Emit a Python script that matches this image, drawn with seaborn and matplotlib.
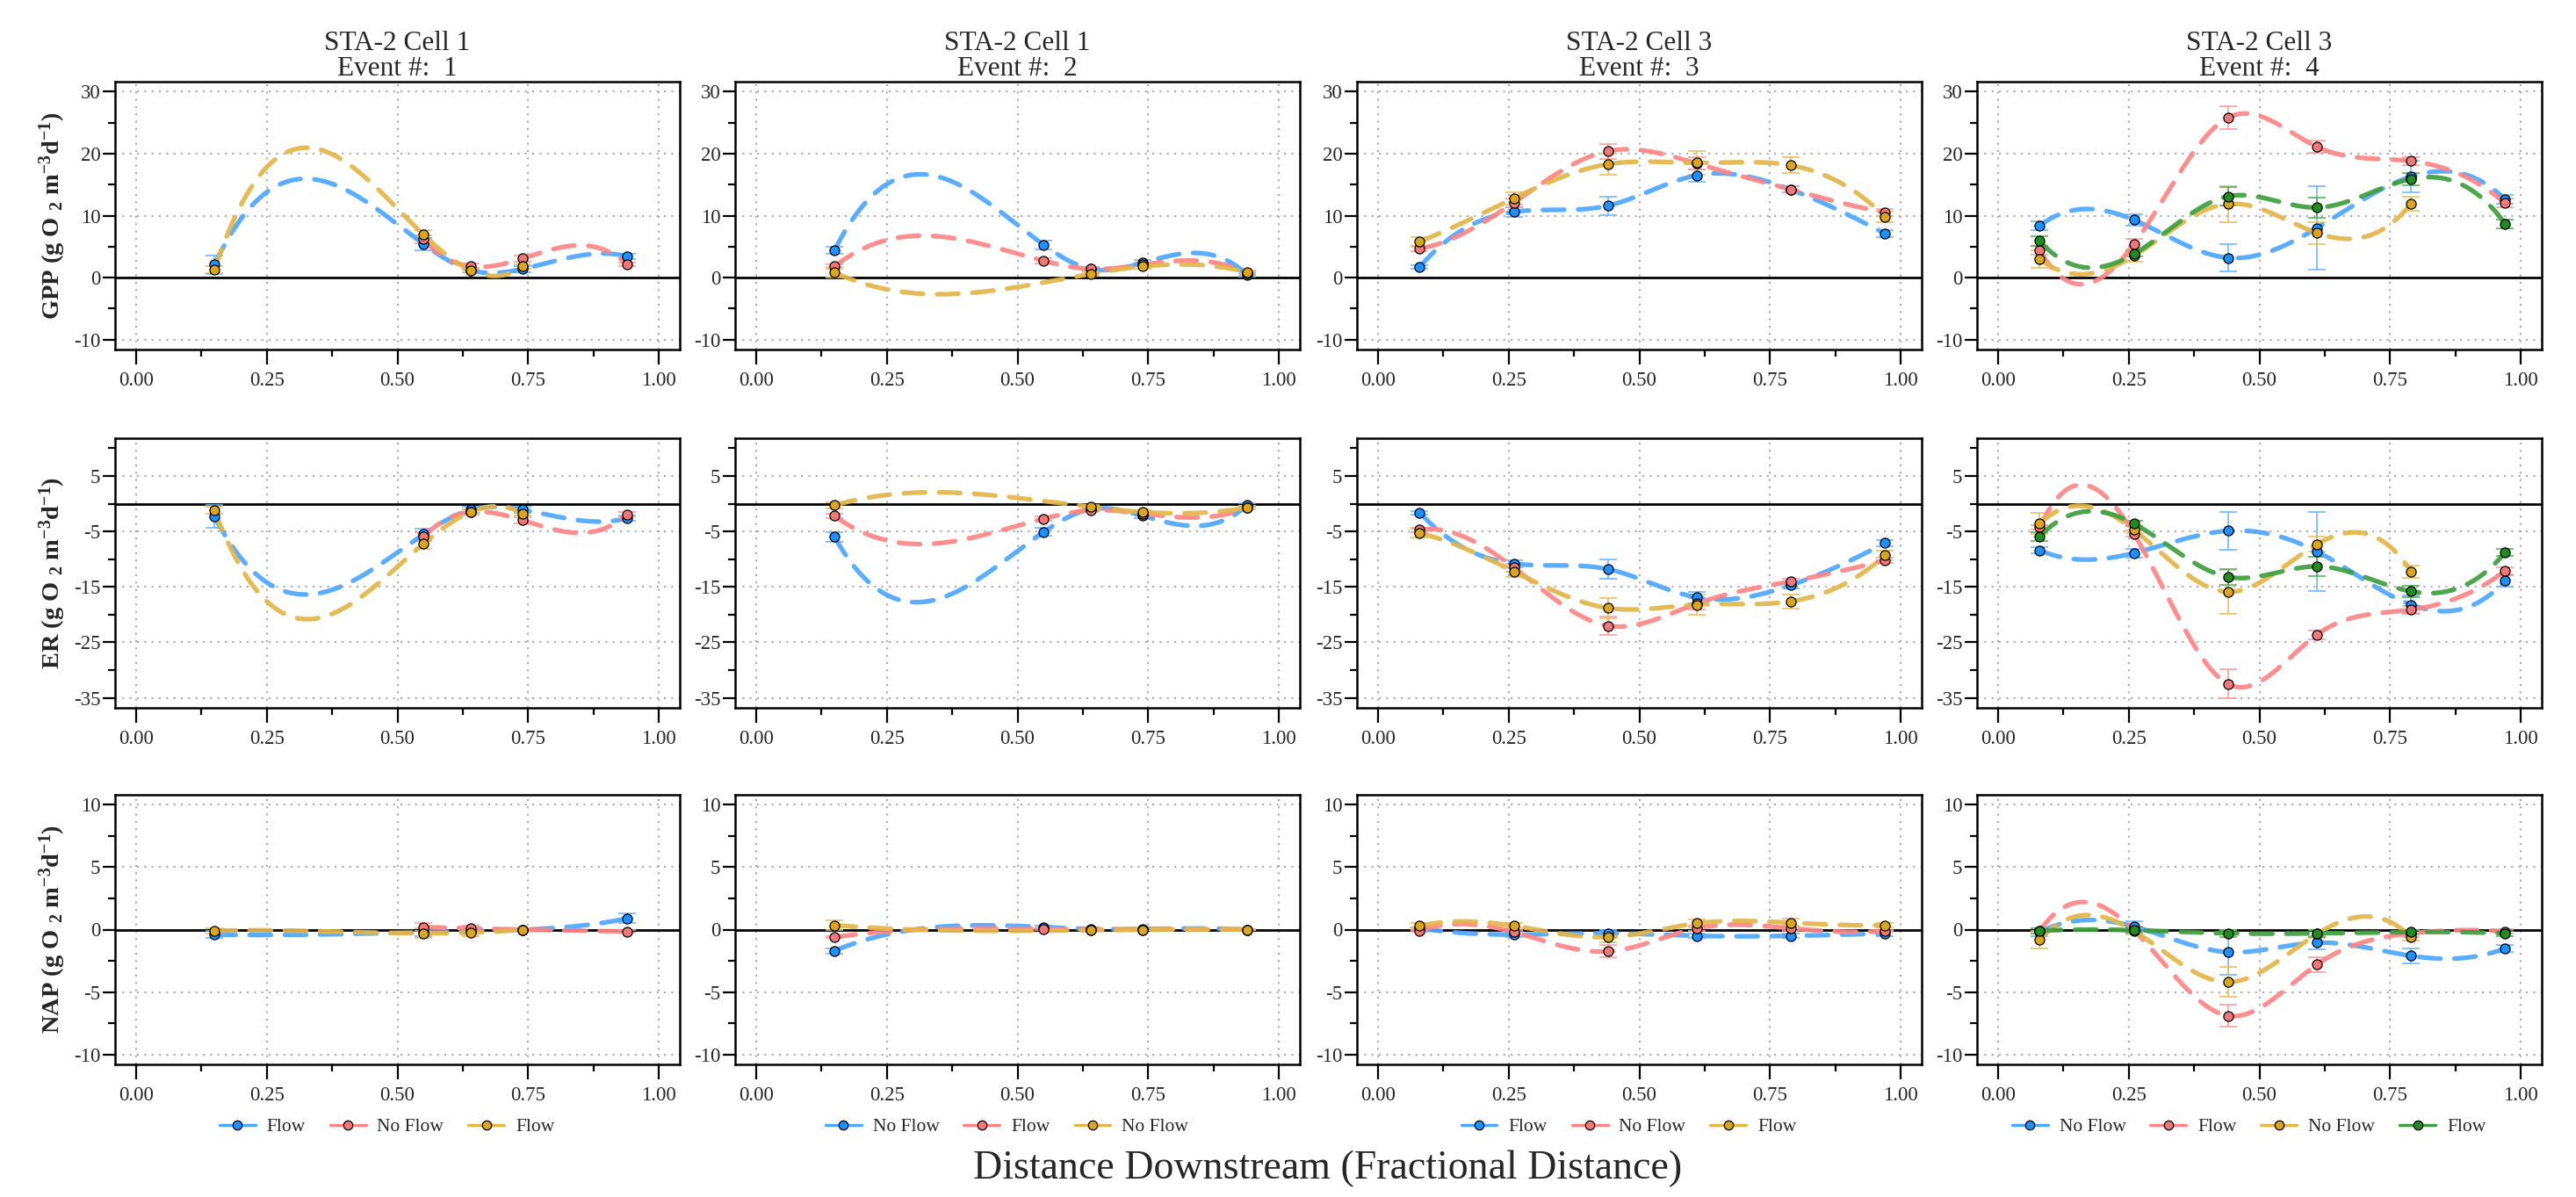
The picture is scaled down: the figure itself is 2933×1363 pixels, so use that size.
import numpy as np
import pandas as pd
import matplotlib
matplotlib.use("Agg")
import matplotlib.pyplot as plt
import seaborn as sns
from matplotlib.lines import Line2D
from matplotlib.ticker import FixedLocator

nan = np.nan

# ---------------- data ----------------
titles = ["STA-2 Cell 1\nEvent #:  1", "STA-2 Cell 1\nEvent #:  2",
          "STA-2 Cell 3\nEvent #:  3", "STA-2 Cell 3\nEvent #:  4"]
metrics = ["GPP", "ER", "NAP"]

dist_e1 = [0.15, 0.55, 0.64, 0.74, 0.94]
dist_e2 = [0.15, 0.55, 0.64, 0.74, 0.94]
dist_e3 = [0.08, 0.26, 0.44, 0.61, 0.79, 0.97]
dist_e4 = [0.08, 0.26, 0.44, 0.61, 0.79, 0.97]

labels_e1 = ["Flow", "No Flow", "Flow"]
labels_e2 = ["No Flow", "Flow", "No Flow"]
labels_e3 = ["Flow", "No Flow", "Flow"]
labels_e4 = ["No Flow", "Flow", "No Flow", "Flow"]

# rows = series (blue, red, gold, green)
e1_gpp = [[2.1, 5.4, 1.2, 1.4, 3.4], [nan, 6.2, 1.8, 3.1, 2.1], [1.3, 6.9, 1.2, 1.8, nan]]
e1_gpp_se = [[1.5, 1.0, 0.4, 0.5, 0.4], [nan, 0.6, 0.5, 0.5, 0.3], [0.6, 0.8, 0.4, 0.4, nan]]
e1_er = [[-2.3, -5.5, -1.1, -1.1, -2.6], [nan, -6.0, -1.5, -3.0, -1.9], [-1.2, -7.2, -1.5, -1.8, nan]]
e1_er_se = [[2.0, 1.0, 0.5, 0.6, 0.5], [nan, 0.8, 0.4, 0.5, 0.4], [0.6, 0.9, 0.4, 0.4, nan]]
e1_nap = [[-0.4, -0.2, -0.1, 0.0, 0.9], [nan, 0.2, 0.1, 0.0, -0.15], [-0.1, -0.3, -0.25, 0.0, nan]]
e1_nap_se = [[0.3, 0.3, 0.2, 0.1, 0.4], [nan, 0.3, 0.2, 0.1, 0.1], [0.2, 0.4, 0.3, 0.1, nan]]

e2_gpp = [[4.4, 5.3, 1.4, 2.4, 0.4], [1.8, 2.7, 1.4, 2.1, 0.7], [0.85, nan, 0.6, 1.8, 0.85]]
e2_gpp_se = [[0.6, 0.7, 0.3, 0.4, 0.3], [0.4, 0.4, 0.3, 0.3, 0.3], [0.8, nan, 0.3, 0.3, 0.3]]
e2_er = [[-6.0, -5.1, -1.0, -2.2, -0.2], [-2.2, -2.7, -1.2, -1.8, -0.7], [-0.3, nan, -0.6, -1.5, -0.7]]
e2_er_se = [[0.9, 0.7, 0.3, 0.4, 0.3], [0.4, 0.4, 0.3, 0.3, 0.3], [0.5, nan, 0.3, 0.3, 0.3]]
e2_nap = [[-1.7, 0.2, 0.05, 0.05, 0.0], [-0.6, 0.05, 0.0, 0.0, 0.0], [0.35, nan, -0.05, 0.0, 0.0]]
e2_nap_se = [[0.2, 0.1, 0.1, 0.1, 0.05], [0.1, 0.1, 0.05, 0.05, 0.05], [0.4, nan, 0.05, 0.05, 0.05]]

e3_gpp = [[1.7, 10.6, 11.6, 16.5, 14.2, 7.1], [4.7, 12.1, 20.4, 18.4, 14.2, 10.5],
          [5.8, 12.8, 18.3, 18.5, 18.1, 9.8]]
e3_gpp_se = [[0.3, 0.8, 1.5, 1.0, 0.5, 0.5], [0.4, 0.7, 1.2, 1.0, 0.5, 0.5],
             [0.8, 1.0, 1.7, 1.9, 1.3, 0.9]]
e3_er = [[-1.6, -10.8, -11.8, -16.9, -14.7, -7.1], [-4.7, -11.5, -22.0, -18.0, -14.0, -10.2],
         [-5.3, -12.2, -18.8, -18.2, -17.6, -9.3]]
e3_er_se = [[0.3, 0.6, 1.7, 1.0, 0.6, 0.5], [0.4, 0.7, 1.7, 1.0, 0.5, 0.5],
            [0.8, 1.0, 1.8, 1.8, 1.3, 0.9]]
e3_nap = [[0.1, -0.4, -0.3, -0.5, -0.5, -0.3], [-0.1, -0.2, -1.75, 0.1, 0.1, -0.1],
          [0.3, 0.3, -0.6, 0.5, 0.55, 0.35]]
e3_nap_se = [[0.1, 0.2, 0.3, 0.2, 0.2, 0.2], [0.1, 0.2, 0.5, 0.2, 0.2, 0.1],
             [0.2, 0.2, 0.4, 0.3, 0.3, 0.2]]

e4_gpp = [[8.4, 9.3, 3.2, 8.0, 16.3, 12.6], [4.4, 5.4, 25.8, 21.1, 18.8, 12.0],
          [3.0, 3.5, 11.9, 7.2, 11.9, nan], [5.9, 3.8, 13.1, 11.3, 15.9, 8.7]]
e4_gpp_se = [[0.7, 0.9, 2.2, 6.7, 2.6, 0.7], [0.7, 0.8, 1.9, 1.0, 0.6, 0.7],
             [1.4, 0.9, 2.9, 1.8, 1.1, nan], [0.8, 0.4, 1.5, 1.6, 1.0, 0.7]]
e4_er = [[-8.4, -8.9, -4.9, -8.6, -18.2, -13.9], [-4.2, -5.4, -32.5, -23.6, -19.1, -12.1],
         [-3.6, -4.7, -15.9, -7.3, -12.2, nan], [-5.9, -3.6, -13.2, -11.3, -15.8, -8.8]]
e4_er_se = [[0.6, 0.8, 3.4, 7.1, 1.6, 1.0], [0.4, 0.6, 2.6, 0.8, 0.6, 0.7],
            [1.9, 0.6, 4.0, 1.4, 1.1, nan], [0.8, 0.5, 1.4, 1.8, 1.0, 0.6]]
e4_nap = [[-0.2, 0.25, -1.8, -1.05, -2.1, -1.5], [-0.1, -0.05, -6.9, -2.8, -0.3, -0.15],
          [-0.8, -0.1, -4.2, -0.35, -0.6, nan], [-0.1, -0.05, -0.3, -0.3, -0.2, -0.3]]
e4_nap_se = [[0.3, 0.4, 1.8, 0.5, 0.6, 0.3], [0.2, 0.3, 0.9, 0.6, 0.3, 0.2],
             [0.7, 0.3, 1.2, 0.3, 0.3, nan], [0.2, 0.2, 0.3, 0.3, 0.2, 0.2]]

# ---------------- style ----------------
marker_colors = ["#1E90FF", "#F07878", "#DAA520", "#228B22"]
line_colors = ["#4DA6FF", "#FF8585", "#E3B64A", "#3E9E3E"]
err_colors = ["#6CB6FF", "#FF9A9A", "#E8C060", "#5AAE5A"]

events = [
    dict(dist=dist_e1, labels=labels_e1, GPP=(e1_gpp, e1_gpp_se), ER=(e1_er, e1_er_se), NAP=(e1_nap, e1_nap_se)),
    dict(dist=dist_e2, labels=labels_e2, GPP=(e2_gpp, e2_gpp_se), ER=(e2_er, e2_er_se), NAP=(e2_nap, e2_nap_se)),
    dict(dist=dist_e3, labels=labels_e3, GPP=(e3_gpp, e3_gpp_se), ER=(e3_er, e3_er_se), NAP=(e3_nap, e3_nap_se)),
    dict(dist=dist_e4, labels=labels_e4, GPP=(e4_gpp, e4_gpp_se), ER=(e4_er, e4_er_se), NAP=(e4_nap, e4_nap_se)),
]

ycfg = {
    "GPP": dict(lim=(-11.6, 31.6), major=[-10, 0, 10, 20, 30], minor=[-5, 5, 15, 25]),
    "ER": dict(lim=(-36.8, 11.8), major=[-35, -25, -15, -5, 5], minor=[-30, -20, -10, 0, 10]),
    "NAP": dict(lim=(-10.8, 10.8), major=[-10, -5, 0, 5, 10], minor=[-7.5, -2.5, 2.5, 7.5]),
}


def fmm_spline(x, y, n=300):
    """Cubic interpolating spline with Forsythe-Malcolm-Moler end conditions (as R's spline())."""
    x = np.asarray(x, float)
    y = np.asarray(y, float)
    m = len(x)
    b = np.zeros(m); c = np.zeros(m); d = np.zeros(m)
    if m < 2:
        return x, y
    if m < 3:
        b[:] = (y[1] - y[0]) / (x[1] - x[0])
    else:
        nm1 = m - 1
        d[0] = x[1] - x[0]
        c[1] = (y[1] - y[0]) / d[0]
        for i in range(1, nm1):
            d[i] = x[i + 1] - x[i]
            b[i] = 2.0 * (d[i - 1] + d[i])
            c[i + 1] = (y[i + 1] - y[i]) / d[i]
            c[i] = c[i + 1] - c[i]
        b[0] = -d[0]
        b[nm1] = -d[m - 2]
        c[0] = 0.0
        c[nm1] = 0.0
        if m > 3:
            c0 = c[2] / (x[3] - x[1]) - c[1] / (x[2] - x[0])
            cn = c[m - 2] / (x[nm1] - x[m - 3]) - c[m - 3] / (x[m - 2] - x[m - 4])
            c[0] = c0 * d[0] * d[0] / (x[3] - x[0])
            c[nm1] = -cn * d[m - 2] * d[m - 2] / (x[nm1] - x[m - 4])
        for i in range(1, m):
            t = d[i - 1] / b[i - 1]
            b[i] = b[i] - t * d[i - 1]
            c[i] = c[i] - t * c[i - 1]
        c[nm1] = c[nm1] / b[nm1]
        for i in range(m - 2, -1, -1):
            c[i] = (c[i] - d[i] * c[i + 1]) / b[i]
        b[nm1] = (y[nm1] - y[m - 2]) / d[m - 2] + d[m - 2] * (c[m - 2] + 2.0 * c[nm1])
        for i in range(nm1):
            b[i] = (y[i + 1] - y[i]) / d[i] - d[i] * (c[i + 1] + 2.0 * c[i])
            d[i] = (c[i + 1] - c[i]) / d[i]
            c[i] = 3.0 * c[i]
        c[nm1] = 3.0 * c[nm1]
        d[nm1] = d[m - 2]
    u = np.linspace(x[0], x[-1], n)
    idx = np.clip(np.searchsorted(x, u, side="right") - 1, 0, m - 1)
    dx = u - x[idx]
    v = y[idx] + dx * (b[idx] + dx * (c[idx] + dx * d[idx]))
    return u, v


sns.set_theme(style="white")
plt.rcParams["font.family"] = ["Liberation Serif", "DejaVu Serif"]
plt.rcParams["mathtext.default"] = "regular"
plt.rcParams["axes.unicode_minus"] = False

W, H = 2933, 1363
fig = plt.figure(figsize=(W / 100, H / 100), dpi=100)
fig.patch.set_facecolor("white")

col_left = [131, 837, 1545, 2251]
col_w = 643
row_tb = [(93, 398), (499, 806), (905, 1212)]

ylabels = {
    "GPP": r"GPP (g O $_{2}$ m$^{-3}$d$^{-1}$)",
    "ER": r"ER (g O $_{2}$ m$^{-3}$d$^{-1}$)",
    "NAP": r"NAP (g O $_{2}$ m$^{-3}$d$^{-1}$)",
}

for ci, ev in enumerate(events):
    dist = np.asarray(ev["dist"], float)
    for ri, met in enumerate(metrics):
        top, bot = row_tb[ri]
        ax = fig.add_axes([col_left[ci] / W, 1 - bot / H, col_w / W, (bot - top) / H])
        ax.set_facecolor("white")
        cfg = ycfg[met]
        vals, ses = ev[met]

        # grid
        for gx in [0, 0.25, 0.5, 0.75, 1.0]:
            ax.axvline(gx, color="#aaaaaa", lw=1.5, ls=(0, (1, 3)), zorder=0.5)
        for gy in cfg["major"]:
            if gy != 0:
                ax.axhline(gy, color="#aaaaaa", lw=1.5, ls=(0, (1, 3)), zorder=0.5)
        ax.axhline(0, color="black", lw=2.0, zorder=1)

        for si in range(len(vals)):
            y = np.asarray(vals[si], float)
            e = np.asarray(ses[si], float)
            ok = ~np.isnan(y)
            xs, ys, es = dist[ok], y[ok], e[ok]
            # error bars
            ax.errorbar(xs, ys, yerr=es, fmt="none", ecolor=err_colors[si], elinewidth=1.3,
                        capsize=7, capthick=1.3, alpha=0.9, zorder=2)
            # smooth spline curve
            u, v = fmm_spline(xs, ys)
            curve = pd.DataFrame({"x": u, "y": v})
            sns.lineplot(data=curve, x="x", y="y", ax=ax, color=line_colors[si], lw=3.8,
                         linestyle=(0, (4.6, 3.0)), dash_capstyle="round", sort=False,
                         estimator=None, alpha=0.92, zorder=3, legend=False)
            pts = pd.DataFrame({"x": xs, "y": ys})
            sns.scatterplot(data=pts, x="x", y="y", ax=ax, color=marker_colors[si], s=64,
                            edgecolor="black", linewidth=0.9, zorder=4, legend=False)

        ax.set_xlim(-0.04, 1.04)
        ax.set_ylim(*cfg["lim"])
        ax.xaxis.set_major_locator(FixedLocator([0, 0.25, 0.5, 0.75, 1.0]))
        ax.xaxis.set_minor_locator(FixedLocator([0.125, 0.375, 0.625, 0.875]))
        ax.yaxis.set_major_locator(FixedLocator(cfg["major"]))
        ax.yaxis.set_minor_locator(FixedLocator(cfg["minor"]))
        ax.set_xticklabels(["0.00", "0.25", "0.50", "0.75", "1.00"])
        ax.set_yticklabels([f"{t:g}" for t in cfg["major"]])
        ax.tick_params(axis="x", which="major", direction="out", length=12, width=1.6,
                       labelsize=16.5, pad=6, color="black", bottom=True)
        ax.tick_params(axis="x", which="minor", direction="out", length=6, width=1.6,
                       color="black", bottom=True)
        ax.tick_params(axis="y", which="major", direction="out", length=10, width=1.6,
                       labelsize=16.5, pad=2, color="black", left=True)
        ax.tick_params(axis="y", which="minor", direction="out", length=6, width=1.6,
                       color="black", left=True)
        for sp in ax.spines.values():
            sp.set_visible(True)
            sp.set_color("black")
            sp.set_linewidth(1.8)
        ax.set_xlabel("")
        ax.set_ylabel("")

        if ri == 0:
            ax.set_title(titles[ci], fontsize=22.5, linespacing=1.0, pad=4)

        if ci == 0:
            fig.text(60 / W, 1 - ((top + bot) / 2) / H, ylabels[met], rotation=90,
                     ha="center", va="center", fontsize=20.5, fontweight="bold")

    # legend under each column
    handles = [Line2D([0], [0], color=line_colors[si], lw=2.5, marker="o",
                      markerfacecolor=marker_colors[si], markeredgecolor="black",
                      markeredgewidth=0.9, markersize=7.5)
               for si in range(len(ev["labels"]))]
    cx = (col_left[ci] + col_w / 2 - 12) / W
    fig.legend(handles, ev["labels"], loc="center", bbox_to_anchor=(cx, 1 - 1283 / H),
               ncol=len(handles), frameon=False, fontsize=15.5, handlelength=1.9,
               handletextpad=0.6, columnspacing=1.3)

fig.text(1512 / W, 1 - 1331 / H, "Distance Downstream (Fractional Distance)",
         ha="center", va="center", fontsize=33)

fig.savefig("out.png", dpi=100, facecolor="white")
